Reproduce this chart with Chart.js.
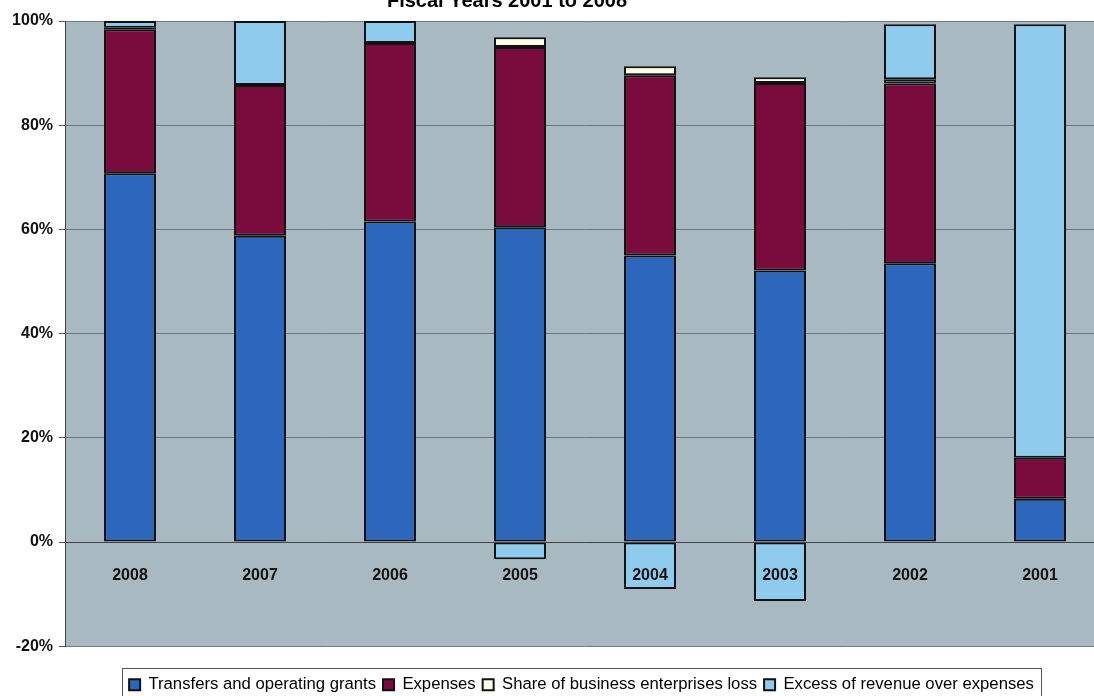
<!DOCTYPE html>
<html lang="en">
<head>
<meta charset="UTF-8">
<title>Fiscal Years 2001 to 2008</title>
<script src="https://cdn.jsdelivr.net/npm/chart.js"></script>
<style>
    html, body { margin: 0; padding: 0; background: #fff; overflow: hidden; }
    #wrap { position: relative; width: 1110px; height: 703px; }
</style>
</head>
<body>
<div id="wrap"><canvas id="chart"></canvas></div>
<script>
var years = ['2008', '2007', '2006', '2005', '2004', '2003', '2002', '2001'];
var transfers = [70.8, 58.8, 61.5, 60.4, 55.0, 52.1, 53.5, 8.3];
var expenses = [27.6, 28.9, 34.3, 34.6, 34.6, 36.0, 34.5, 7.9];
var shareLoss = [0.3, 0, 0, 1.9, 1.7, 1.1, 0.8, 0];
var excess = [1.3, 12.3, 4.2, -3.3, -9.0, -11.3, 10.6, 83.2];
var yMin = -20, yMax = 100, yStep = 20;
var titleText = 'Fiscal Years 2001 to 2008';

var font = '"Liberation Sans", Arial, sans-serif';
var legendShift = 29;

// grey plot area, cut-off title and legend frame
var decor = {
    id: 'decor',
    afterLayout: function(chart) {
        // legend in the original sits a bit right of the canvas centre
        var lg = chart.legend;
        lg.left += legendShift;
        lg.right += legendShift;
        (lg.legendHitBoxes || []).forEach(function(h) { h.left += legendShift; });
    },
    beforeDraw: function(chart) {
        var a = chart.chartArea, ctx = chart.ctx;
        ctx.save();
        ctx.fillStyle = '#a9b9c2';
        ctx.fillRect(a.left, a.top, a.right - a.left, a.bottom - a.top);
        ctx.restore();
    },
    afterDraw: function(chart) {
        var ctx = chart.ctx;
        ctx.save();
        ctx.font = 'bold 20px ' + font;
        ctx.fillStyle = '#000';
        ctx.textAlign = 'center';
        ctx.textBaseline = 'alphabetic';
        ctx.fillText(titleText, 507, 7);

        var boxes = chart.legend.legendHitBoxes;
        if (boxes && boxes.length) {
            var l = boxes[0].left, r = boxes[0].left + boxes[0].width, t = boxes[0].top, b = t + boxes[0].height;
            boxes.forEach(function(h) {
                l = Math.min(l, h.left); r = Math.max(r, h.left + h.width);
                t = Math.min(t, h.top); b = Math.max(b, h.top + h.height);
            });
            ctx.strokeStyle = '#555';
            ctx.lineWidth = 1;
            ctx.strokeRect(Math.round(l) - 6.5, Math.round(t) - 7.5, Math.round(r - l) + 14, Math.round(b - t) + 20);
        }
        ctx.restore();
    }
};

var ctx = document.getElementById('chart').getContext('2d');
var chart = new Chart(ctx, {
    type: 'bar',
    data: {
        labels: years,
        datasets: [
            { label: 'Transfers and operating grants', data: transfers, backgroundColor: '#2c67bc' },
            { label: 'Expenses', data: expenses, backgroundColor: '#7a0c3d' },
            { label: 'Share of business enterprises loss', data: shareLoss, backgroundColor: '#fffde4' },
            { label: 'Excess of revenue over expenses', data: excess, backgroundColor: '#8ecbec' }
        ]
    },
    options: {
        responsive: true,
        maintainAspectRatio: false,
        animation: false,
        layout: { padding: { top: 21, right: 5, left: 0, bottom: 0 } },
        datasets: {
            bar: {
                borderColor: '#111',
                borderWidth: 2,
                borderSkipped: false,
                categoryPercentage: 1,
                barPercentage: 0.4
            }
        },
        plugins: {
            title: { display: false },
            tooltip: { enabled: false },
            legend: {
                position: 'bottom',
                title: { display: true, text: ' ', font: { size: 10 }, padding: { top: 11, bottom: 0 } },
                labels: {
                    font: { family: font, size: 16.7 },
                    color: '#000',
                    boxWidth: 11,
                    boxHeight: 11,
                    padding: 7
                }
            }
        },
        scales: {
            x: {
                stacked: true,
                position: { y: 0 },
                grid: { display: false },
                border: { display: true, color: '#444', width: 1, z: 1 },
                ticks: { font: { family: font, size: 16, weight: 'bold' }, color: '#111', padding: 16, z: 2 }
            },
            y: {
                stacked: true,
                min: yMin,
                max: yMax,
                afterFit: function(s) { s.width = 65; },
                ticks: {
                    stepSize: yStep,
                    font: { family: font, size: 16, weight: 'bold' },
                    color: '#111',
                    padding: 6,
                    callback: function(v) { return v + '%'; }
                },
                grid: { color: '#6f7a80', lineWidth: 1, tickLength: 6, tickColor: '#555' },
                border: { display: true, color: '#444', width: 1 }
            }
        }
    },
    plugins: [decor]
});
</script>
</body>
</html>
